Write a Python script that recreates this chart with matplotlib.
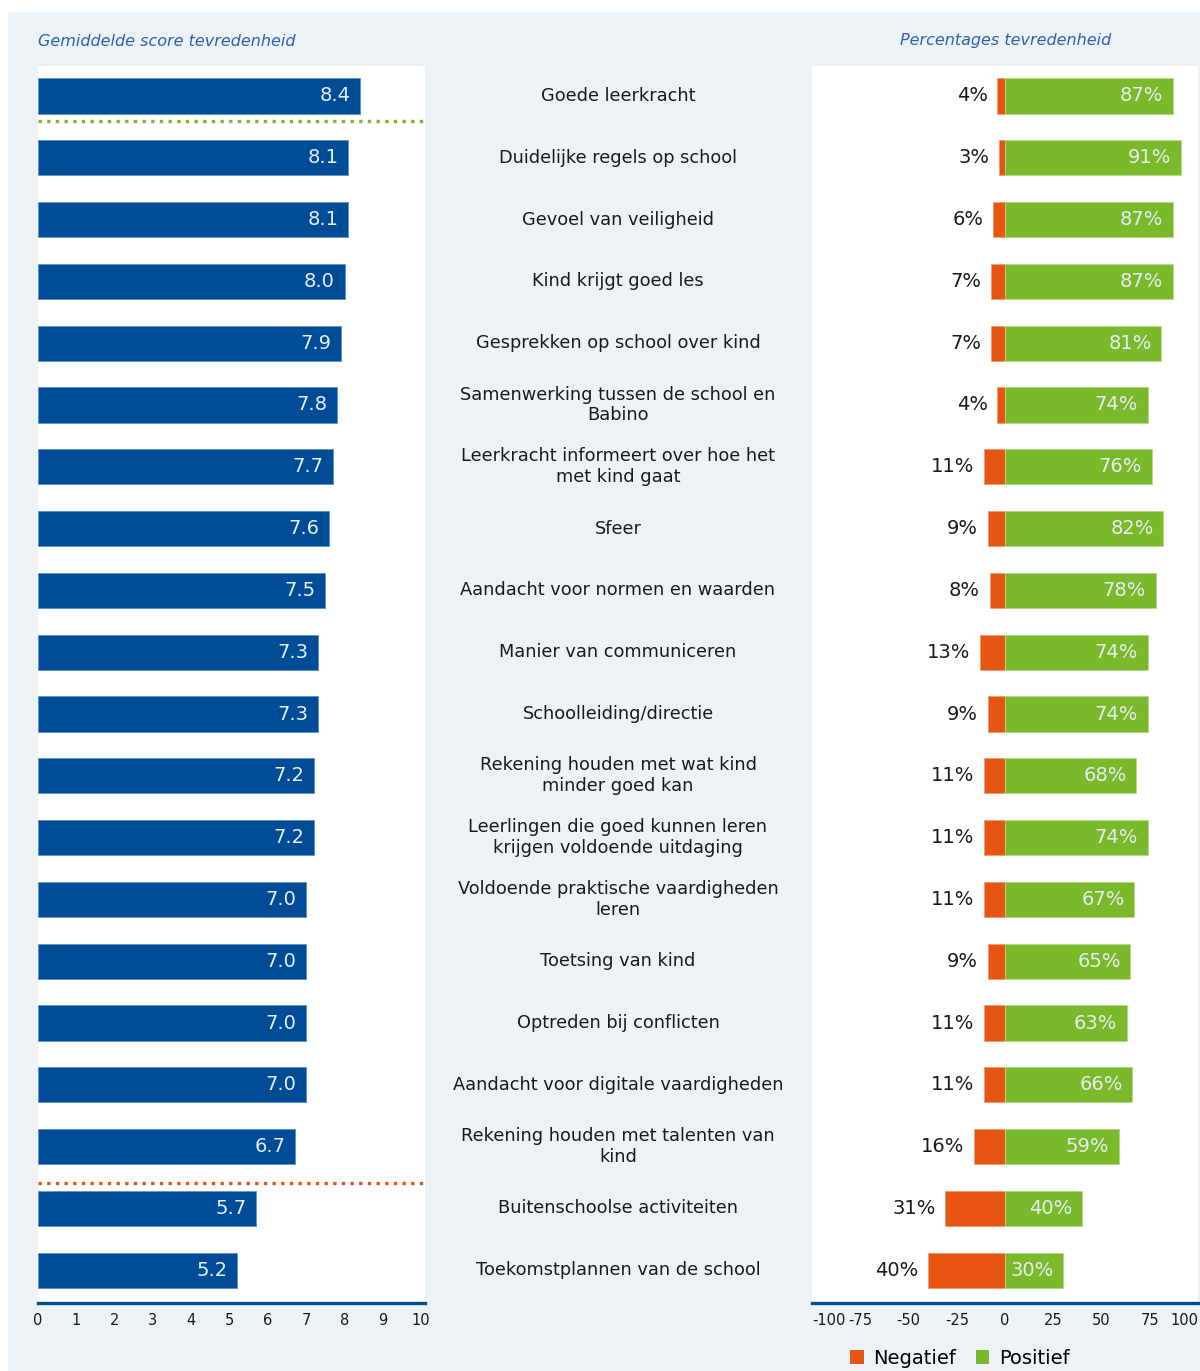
import matplotlib
matplotlib.use("Agg")
import matplotlib.pyplot as plt
from matplotlib.patches import Rectangle, Patch
import matplotlib.transforms as mtransforms
import numpy as np

categories = [
    "Goede leerkracht",
    "Duidelijke regels op school",
    "Gevoel van veiligheid",
    "Kind krijgt goed les",
    "Gesprekken op school over kind",
    "Samenwerking tussen de school en\nBabino",
    "Leerkracht informeert over hoe het\nmet kind gaat",
    "Sfeer",
    "Aandacht voor normen en waarden",
    "Manier van communiceren",
    "Schoolleiding/directie",
    "Rekening houden met wat kind\nminder goed kan",
    "Leerlingen die goed kunnen leren\nkrijgen voldoende uitdaging",
    "Voldoende praktische vaardigheden\nleren",
    "Toetsing van kind",
    "Optreden bij conflicten",
    "Aandacht voor digitale vaardigheden",
    "Rekening houden met talenten van\nkind",
    "Buitenschoolse activiteiten",
    "Toekomstplannen van de school",
]
scores = [8.4, 8.1, 8.1, 8.0, 7.9, 7.8, 7.7, 7.6, 7.5, 7.3, 7.3, 7.2, 7.2,
          7.0, 7.0, 7.0, 7.0, 6.7, 5.7, 5.2]
negatief = [4, 3, 6, 7, 7, 4, 11, 9, 8, 13, 9, 11, 11, 11, 9, 11, 11, 16, 31, 40]
positief = [87, 91, 87, 87, 81, 74, 76, 82, 78, 74, 74, 68, 74, 67, 65, 63, 66, 59, 40, 30]
score_ticks = list(range(0, 11))
pct_ticks = [-100, -75, -50, -25, 0, 25, 50, 75, 100]

BLUE = "#004c97"
GREEN = "#7ab929"
ORANGE = "#e85411"
BG = "#edf2f7"
TITLE_C = "#2a63ad"
TXT = "#1a1a1a"
LIGHT = "#e6edf5"

plt.rcParams["font.family"] = ["DejaVu Sans"]

W, H = 1200, 1371
fig = plt.figure(figsize=(W / 100, H / 100), dpi=100)
fig.patch.set_facecolor("white")
fig.add_artist(Rectangle((8 / W, 0), 1 - 8 / W, 1 - 12 / H, transform=fig.transFigure,
                         facecolor=BG, edgecolor="none", zorder=0))

ax_bot = 1 - 1303 / H
ax_h = (1303 - 66) / H
axL = fig.add_axes([38 / W, ax_bot, (425 - 38) / W, ax_h])
axR = fig.add_axes([812 / W, ax_bot, (1198 - 812) / W, ax_h])

n = len(categories)
y = np.arange(n)
bh = 0.57
ylim = (n - 1 + 0.53, -0.485)

for ax in (axL, axR):
    ax.set_facecolor("white")
    ax.set_ylim(*ylim)
    ax.set_yticks([])
    for s in ("top", "left", "right"):
        ax.spines[s].set_visible(False)
    ax.spines["bottom"].set_color(BLUE)
    ax.spines["bottom"].set_linewidth(2.4)
    ax.tick_params(axis="x", length=0, pad=7, labelsize=10.5, labelcolor=TXT)

# Left: mean scores
axL.set_xlim(0, 10.1)
axL.barh(y, scores, height=bh, color=BLUE, edgecolor="#5d8fc6", linewidth=0.6)
for yi, v in zip(y, scores):
    axL.text(v - 0.25, yi, f"{v:.1f}", ha="right", va="center", color=LIGHT, fontsize=14)
axL.set_xticks(score_ticks)
axL.set_xticklabels([str(t) for t in score_ticks])
axL.axhline(0.41, color=GREEN, linestyle=(0, (1, 1.6)), linewidth=2.4)
axL.axhline(17.59, color=ORANGE, linestyle=(0, (1, 1.6)), linewidth=2.4)

# Category labels in the middle column
trans = mtransforms.blended_transform_factory(fig.transFigure, axL.transData)
for yi, c in zip(y, categories):
    axL.text(618 / W, yi, c, transform=trans, ha="center", va="center",
             fontsize=12.8, color=TXT, linespacing=1.2, clip_on=False)

# Right: percentages
axR.set_xlim(-100, 100)
axR.barh(y, [-v for v in negatief], height=bh, color=ORANGE, edgecolor="#f39a70", linewidth=0.6)
axR.barh(y, positief, height=bh, color=GREEN, edgecolor="#b5dc86", linewidth=0.6)
for yi, nv, pv in zip(y, negatief, positief):
    axR.text(-nv - 5, yi, f"{nv}%", ha="right", va="center", color=TXT, fontsize=14)
    axR.text(pv - 5, yi, f"{pv}%", ha="right", va="center", color=LIGHT, fontsize=14)
axR.set_xticks(pct_ticks)
axR.set_xticklabels([str(t) for t in pct_ticks])
tl = axR.get_xticklabels()
tl[0].set_horizontalalignment("left")
tl[-1].set_horizontalalignment("right")

# Titles
fig.text(38 / W, 1 - 41 / H, "Gemiddelde score tevredenheid", ha="left", va="center",
         style="italic", color=TITLE_C, fontsize=11.5)
fig.text(1006 / W, 1 - 41 / H, "Percentages tevredenheid", ha="center", va="center",
         style="italic", color=TITLE_C, fontsize=11.5)

# Legend
handles = [Patch(facecolor=ORANGE, label="Negatief"), Patch(facecolor=GREEN, label="Positief")]
fig.legend(handles=handles, loc="center", bbox_to_anchor=(960 / W, 13 / H), ncol=2,
           frameon=False, fontsize=14, handlelength=0.7, handleheight=0.7,
           handletextpad=0.5, columnspacing=1.0)

fig.savefig("out.png", dpi=100, facecolor=fig.get_facecolor())
